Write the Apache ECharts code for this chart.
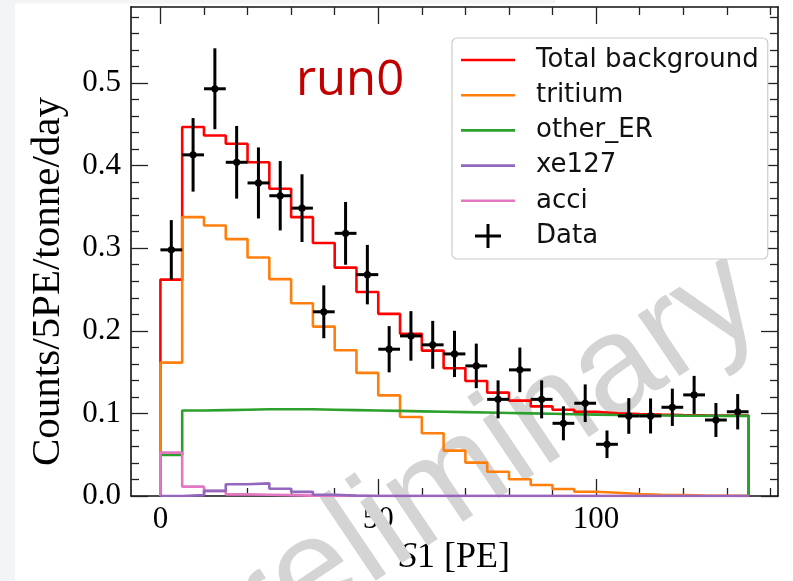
<!DOCTYPE html>
<html>
<head>
<meta charset="utf-8">
<script src="https://cdn.jsdelivr.net/npm/echarts@6/dist/echarts.min.js"></script>
<style>
  html, body { margin: 0; padding: 0; background: #fff; }
  #chart { width: 793px; height: 581px; }
</style>
</head>
<body>
<div id="chart"></div>
<script>
// ---------- data ----------
const binEdges = [0,5,10,15,20,25,30,35,40,45,50,55,60,65,70,75,80,85,90,95,100,105,110,115,120,125,130,135];
const seriesNames = ['Total background','tritium','other_ER','xe127','acci','Data'];

const totalBackground = [0.262,0.4467,0.4365,0.4265,0.404,0.372,0.3376,0.3062,0.2765,0.247,0.2205,0.1963,0.176,0.1547,0.1393,0.1252,0.1155,0.1085,0.1045,0.1018,0.1002,0.0993,0.0985,0.098,0.0977,0.0975,0.0974];
const tritium = [0.1615,0.3376,0.3275,0.311,0.2887,0.2625,0.2334,0.2051,0.1765,0.149,0.1218,0.0957,0.076,0.0549,0.0404,0.0294,0.0202,0.0133,0.0085,0.0052,0.004,0.0025,0.0015,0.001,0.0005,0.0003,0.0002];
const otherER = [0.0497,0.1035,0.104,0.1045,0.105,0.105,0.105,0.1045,0.104,0.1035,0.103,0.1025,0.102,0.1015,0.101,0.1005,0.1,0.0995,0.099,0.0985,0.098,0.0978,0.0975,0.0973,0.0972,0.097,0.097];
const xe127 = [0,0.001,0.0062,0.0143,0.0153,0.0087,0.005,0.0015,0.0005,0,0,0,0,0,0,0,0,0,0,0,0,0,0,0,0,0,0];
const acci = [0.0525,0.0113,0.006,0.002,0.0015,0.001,0.0005,0,0,0,0,0,0,0,0,0,0,0,0,0,0,0,0,0,0,0,0];

const dataS1 = [2.5,7.5,12.5,17.5,22.5,27.5,32.5,37.5,42.5,47.5,52.5,57.5,62.5,67.5,72.5,77.5,82.5,87.5,92.5,97.5,102.5,107.5,112.5,117.5,122.5,127.5,132.5];
const dataRate = [0.298,0.413,0.493,0.404,0.379,0.3635,0.3485,0.223,0.318,0.268,0.1777,0.1938,0.183,0.172,0.1575,0.117,0.1527,0.117,0.088,0.1123,0.0626,0.0969,0.0969,0.1074,0.1224,0.092,0.102];
const dataErr = [0.036,0.0445,0.049,0.044,0.043,0.042,0.041,0.032,0.038,0.036,0.028,0.030,0.029,0.028,0.027,0.023,0.027,0.023,0.0206,0.0228,0.0167,0.0216,0.0212,0.0226,0.023,0.0206,0.0214];

const xMajorTicks = [0,50,100];
const xMinorTicks = [10,20,30,40,60,70,80,90,110,120,130,140];
const yMajorTicks = [0,0.1,0.2,0.3,0.4,0.5];
const yMinorTicks = [0.02,0.04,0.06,0.08,0.12,0.14,0.16,0.18,0.22,0.24,0.26,0.28,0.32,0.34,0.36,0.38,0.42,0.44,0.46,0.48,0.52,0.54,0.56,0.58];

// ---------- styling ----------
const COL = { total:'#ff0000', tritium:'#ff7f0e', other:'#2ca02c', xe:'#9467bd', acci:'#e377c2', data:'#000000' };
const X_MIN = -6.75, X_MAX = 141.75, Y_MIN = 0, Y_MAX = 0.592;
const SERIF = '"Liberation Serif", "DejaVu Serif", serif';

function stepData(vals) {
  const d = [[binEdges[0], 0]];
  vals.forEach((v, i) => d.push([binEdges[i], v]));
  const last = binEdges[binEdges.length - 1];
  d.push([last, vals[vals.length - 1]]);
  d.push([last, 0]);
  return d;
}

function histSeries(name, vals, color, z) {
  return {
    name, type: 'line', step: 'end', data: stepData(vals),
    showSymbol: false, symbol: 'none', z,
    itemStyle: { color }, lineStyle: { color, width: 2.6 },
    emphasis: { disabled: true }, animation: false
  };
}

function xAx(pos, ticks, len, showLine, showLabel) {
  return {
    type: 'value', position: pos, min: X_MIN, max: X_MAX, offset: 0,
    axisLine: { show: showLine, onZero: false, lineStyle: { color: '#111', width: 1.6 } },
    axisTick: { show: true, inside: true, length: len, customValues: ticks, lineStyle: { color: '#222', width: 1.3 } },
    axisLabel: showLabel ? { show: true, customValues: ticks, fontFamily: SERIF, fontSize: 31, color: '#000', margin: 8 } : { show: false },
    splitLine: { show: false }, minorTick: { show: false }
  };
}
function yAx(pos, ticks, len, showLine, showLabel) {
  return {
    type: 'value', position: pos, min: Y_MIN, max: Y_MAX, offset: 0,
    axisLine: { show: showLine, onZero: false, lineStyle: { color: '#111', width: 1.6 } },
    axisTick: { show: true, inside: true, length: len, customValues: ticks, lineStyle: { color: '#222', width: 1.3 } },
    axisLabel: showLabel ? { show: true, customValues: ticks, fontFamily: SERIF, fontSize: 31, color: '#000', margin: 10,
      formatter: v => Number(v).toFixed(1) } : { show: false },
    splitLine: { show: false }, minorTick: { show: false }
  };
}

const xAxes = [
  xAx('bottom', xMajorTicks, 17, true, true),
  xAx('top', xMajorTicks, 17, true, false),
  xAx('bottom', xMinorTicks, 8, false, false),
  xAx('top', xMinorTicks, 8, false, false)
];
Object.assign(xAxes[0], {
  name: '{i|S}1 [PE]', nameLocation: 'middle', nameGap: 40,
  nameTextStyle: { fontFamily: SERIF, fontSize: 36, color: '#000',
    rich: { i: { fontFamily: SERIF, fontSize: 36, fontStyle: 'italic', color: '#000' } } }
});
const yAxes = [
  yAx('left', yMajorTicks, 17, true, true),
  yAx('right', yMajorTicks, 17, true, false),
  yAx('left', yMinorTicks, 8, false, false),
  yAx('right', yMinorTicks, 8, false, false)
];
Object.assign(yAxes[0], {
  name: 'Counts/5PE/tonne/day', nameLocation: 'middle', nameGap: 62, nameRotate: 90,
  nameTextStyle: { fontFamily: SERIF, fontSize: 41, color: '#000', padding: [0, 60, 0, 0] }
});

const chart = echarts.init(document.getElementById('chart'), null, { renderer: 'canvas' });

const LINE_ICON = 'path://M0,0H54V2.6H0Z';
const PLUS_ICON = 'path://M11.5,0H14.5V24H11.5Z M0,10.5H26V13.5H0Z';

chart.setOption({
  animation: false,
  backgroundColor: '#ffffff',
  grid: { left: 131, right: 15, top: 7, bottom: 85, containLabel: false, outerBoundsMode: 'none' },
  xAxis: xAxes,
  yAxis: yAxes,
  legend: {
    orient: 'vertical', left: 452, top: 38,
    selectedMode: false,
    padding: [7, 9, 8, 9],
    itemWidth: 54, itemHeight: 24, itemGap: 5.2,
    symbolKeepAspect: true,
    backgroundColor: '#ffffff', borderColor: '#cccccc', borderWidth: 1.2, borderRadius: 5,
    textStyle: { fontFamily: '"DejaVu Sans", sans-serif', fontSize: 26, color: '#111', lineHeight: 30, padding: [0, 0, 0, 16] },
    itemStyle: { borderWidth: 0 },
    data: [
      { name: seriesNames[0], icon: LINE_ICON },
      { name: seriesNames[1], icon: LINE_ICON },
      { name: seriesNames[2], icon: LINE_ICON },
      { name: seriesNames[3], icon: LINE_ICON },
      { name: seriesNames[4], icon: LINE_ICON },
      { name: seriesNames[5], icon: PLUS_ICON }
    ]
  },
  graphic: [
    { type: 'rect', z: -10, shape: { x: 0, y: 0, width: 15, height: 581 }, style: { fill: '#f3f4f6' }, silent: true },
    { type: 'rect', z: -10, shape: { x: 0, y: 0, width: 555, height: 3.5 }, style: { fill: '#f3f4f6' }, silent: true },
    { type: 'text', z: 1, x: 456, y: 480, rotation: 34 * Math.PI / 180,
      style: { text: 'Preliminary', fill: '#d4d4d4', font: '140px "Liberation Sans", Arial, sans-serif', align: 'center', verticalAlign: 'middle' }, silent: true },
    { type: 'text', z: 50, x: 296, y: 81,
      style: { text: 'run0', fill: '#c00000', font: '49px "Open Sans", "Noto Sans", sans-serif', align: 'left', verticalAlign: 'middle' }, silent: true }
  ],
  series: [
    histSeries(seriesNames[0], totalBackground, COL.total, 3),
    histSeries(seriesNames[1], tritium, COL.tritium, 4),
    histSeries(seriesNames[2], otherER, COL.other, 5),
    histSeries(seriesNames[3], xe127, COL.xe, 7),
    histSeries(seriesNames[4], acci, COL.acci, 6),
    {
      name: seriesNames[5], type: 'custom', z: 10,
      itemStyle: { color: COL.data },
      data: dataS1.map((x, i) => [x, dataRate[i], dataErr[i]]),
      encode: { x: 0, y: 1 },
      renderItem: function (params, api) {
        const x = api.value(0), y = api.value(1), e = api.value(2);
        const halfBin = (binEdges[1] - binEdges[0]) / 2;
        const c = api.coord([x, y]);
        const t = api.coord([x, y + e]);
        const b = api.coord([x, y - e]);
        const l = api.coord([x - halfBin, y]);
        const r = api.coord([x + halfBin, y]);
        return {
          type: 'group',
          children: [
            { type: 'line', shape: { x1: c[0], y1: t[1], x2: c[0], y2: b[1] }, style: { stroke: '#000', lineWidth: 3 } },
            { type: 'line', shape: { x1: l[0], y1: c[1], x2: r[0], y2: c[1] }, style: { stroke: '#000', lineWidth: 3 } },
            { type: 'circle', shape: { cx: c[0], cy: c[1], r: 3.6 }, style: { fill: '#000' } }
          ]
        };
      }
    }
  ]
});
</script>
</body>
</html>
